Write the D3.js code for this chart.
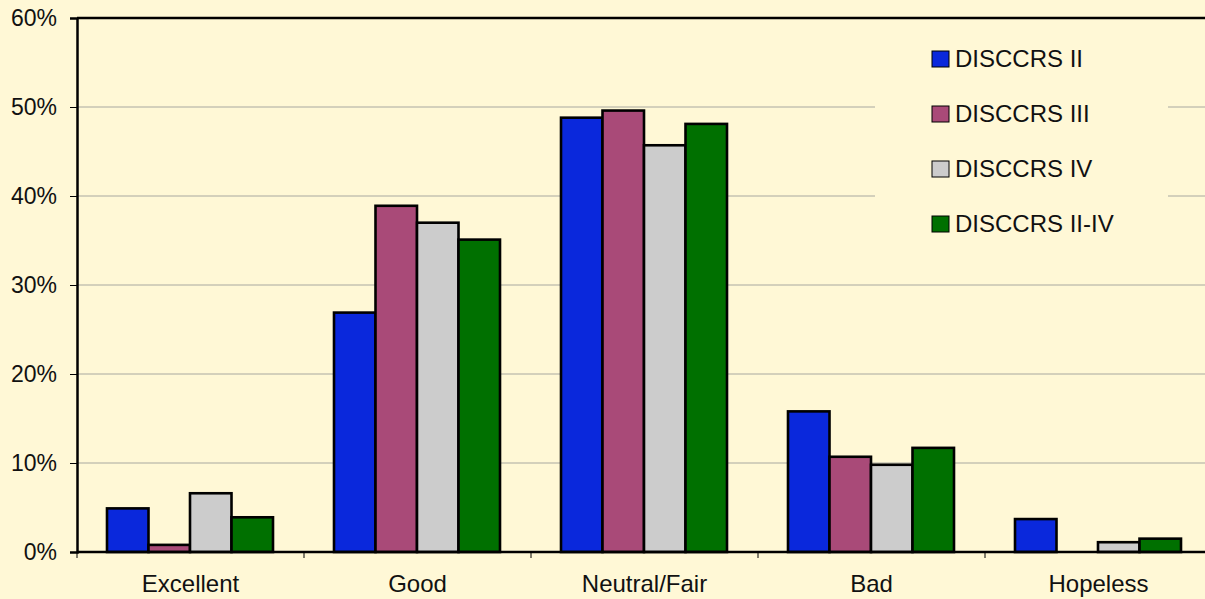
<html>
<head>
<meta charset="utf-8">
<title>DISCCRS</title>
<script src="https://cdn.jsdelivr.net/npm/d3@7"></script>
<style>
  body { margin: 0; background: #fff8d6; }
  text { font-family: "Liberation Sans", Arial, sans-serif; fill: #111; }
</style>
</head>
<body>
<script>
var categories = ["Excellent", "Good", "Neutral/Fair", "Bad", "Hopeless"];
var seriesNames = ["DISCCRS II", "DISCCRS III", "DISCCRS IV", "DISCCRS II-IV"];
var discII   = [4.9, 26.9, 48.8, 15.8, 3.7];
var discIII  = [0.8, 38.9, 49.6, 10.7, 0];
var discIV   = [6.6, 37.0, 45.7, 9.8, 1.1];
var discAll  = [3.9, 35.1, 48.1, 11.7, 1.5];
var yTicks = [0, 10, 20, 30, 40, 50, 60];
var colors = ["#0a28dc", "#a94a78", "#cccccc", "#007000"];

var series = [discII, discIII, discIV, discAll];

var width = 1205, height = 599;
var plotLeft = 77, plotTop = 18, plotBottom = 552;
var bandW = 227;

var svg = d3.select("body").append("svg")
    .attr("width", width)
    .attr("height", height)
    .style("display", "block");

svg.append("rect").attr("width", width).attr("height", height).attr("fill", "#fff8d6");

var x = d3.scaleBand()
    .domain(categories)
    .range([plotLeft, plotLeft + bandW * categories.length])
    .paddingInner(0)
    .paddingOuter(0);

var xs = d3.scaleBand()
    .domain(seriesNames)
    .range([30, bandW - 31]);

var y = d3.scaleLinear().domain([0, 60]).range([plotBottom, plotTop]);

// grid lines
svg.append("g").selectAll("line")
    .data(yTicks.filter(function (d) { return d > 0 && d < 60; }))
    .enter().append("line")
    .attr("x1", plotLeft).attr("x2", width)
    .attr("y1", function (d) { return y(d); })
    .attr("y2", function (d) { return y(d); })
    .attr("stroke", "#a8a8a0")
    .attr("stroke-width", 1);

// legend background hides the grid behind it
svg.append("rect")
    .attr("x", 875).attr("y", 28).attr("width", 293).attr("height", 217)
    .attr("fill", "#fff8d6");

// bars
var groups = svg.append("g").selectAll("g")
    .data(series)
    .enter().append("g")
    .attr("fill", function (d, i) { return colors[i]; });

groups.each(function (vals, si) {
    d3.select(this).selectAll("rect")
        .data(vals)
        .enter().append("rect")
        .attr("x", function (d, i) { return x(categories[i]) + xs(seriesNames[si]); })
        .attr("width", xs.bandwidth())
        .attr("y", function (d) { return y(d); })
        .attr("height", function (d) { return y(0) - y(d); })
        .attr("stroke", function (d) { return d > 0 ? "#000" : "none"; })
        .attr("stroke-width", 2.6);
});

// y axis
var yAxis = svg.append("g")
    .attr("transform", "translate(" + plotLeft + ",0)")
    .call(d3.axisLeft(y).tickValues(yTicks).tickFormat(function (d) { return d + "%"; }).tickSize(7).tickPadding(13));
yAxis.select(".domain").attr("stroke", "#000").attr("stroke-width", 2.5);
yAxis.selectAll(".tick line").attr("stroke", "#000");
yAxis.selectAll("text").style("font-size", "23px").attr("fill", "#111").attr("font-family", null);

// x axis
var xAxis = svg.append("g")
    .attr("transform", "translate(0," + plotBottom + ")");
xAxis.append("line")
    .attr("x1", plotLeft).attr("x2", width)
    .attr("stroke", "#000").attr("stroke-width", 2.5);
xAxis.selectAll(".tk")
    .data(d3.range(categories.length + 1))
    .enter().append("line")
    .attr("x1", function (d) { return plotLeft + d * bandW; })
    .attr("x2", function (d) { return plotLeft + d * bandW; })
    .attr("y1", 0).attr("y2", 6)
    .attr("stroke", "#000");
xAxis.selectAll("text")
    .data(categories)
    .enter().append("text")
    .attr("x", function (d) { return x(d) + x.bandwidth() / 2; })
    .attr("y", 40)
    .attr("text-anchor", "middle")
    .style("font-size", "24px")
    .text(function (d) { return d; });

// top border
svg.append("line")
    .attr("x1", plotLeft).attr("x2", width)
    .attr("y1", plotTop).attr("y2", plotTop)
    .attr("stroke", "#000").attr("stroke-width", 2.5);

// legend
var items = svg.append("g").selectAll(".item")
    .data(seriesNames)
    .enter().append("g")
    .attr("transform", function (d, i) { return "translate(932," + (51 + i * 55) + ")"; });
items.append("rect")
    .attr("width", 17).attr("height", 16)
    .attr("fill", function (d, i) { return colors[i]; })
    .attr("stroke", "#000").attr("stroke-width", 1);
items.append("text")
    .attr("x", 23).attr("y", 16)
    .style("font-size", "24px")
    .text(function (d) { return d; });
</script>
</body>
</html>
